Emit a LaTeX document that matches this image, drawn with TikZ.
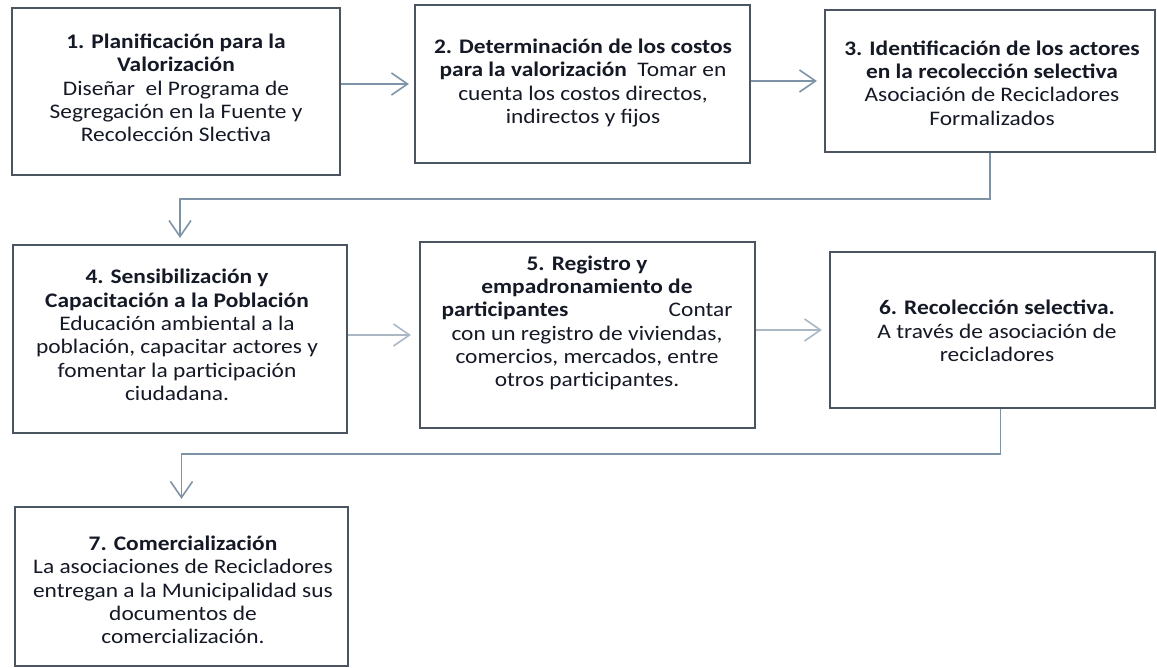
\documentclass[tikz,border=0pt]{standalone}
\usepackage{fontspec}
\setmainfont[FakeStretch=1.13]{Carlito}
\usetikzlibrary{arrows.meta,calc}
\definecolor{boxc}{HTML}{4A5561}
\definecolor{textc}{HTML}{141925}
\definecolor{arrc}{HTML}{7F93A6}
\definecolor{arrl}{HTML}{AAB8C6}
\begin{document}
\begin{tikzpicture}[x=1pt,y=-1pt,
  stepbox/.style={draw=boxc, line width=2.2pt, inner sep=0pt, fill=white},
  txt/.style={font=\fontsize{20.7}{23.3}\selectfont, align=center, text=textc, inner sep=0pt},
  arr/.style={draw=arrc, line width=1.6pt, -{Straight Barb[length=16pt,width=22pt]}},
  arrlight/.style={arr, draw=arrl}]
\useasboundingbox[fill=white] (0,0) rectangle (1157,668);
% boxes
\node[stepbox, minimum width=328pt, minimum height=167pt] (b1) at (176,91.5) {};
\node[stepbox, minimum width=335pt, minimum height=158pt] (b2) at (582.5,84) {};
\node[stepbox, minimum width=330pt, minimum height=142pt] (b3) at (990,81) {};
\node[stepbox, minimum width=334pt, minimum height=188pt] (b4) at (180,339) {};
\node[stepbox, minimum width=335pt, minimum height=186pt] (b5) at (587.5,335) {};
\node[stepbox, minimum width=325pt, minimum height=156pt] (b6) at (992.5,330) {};
\node[stepbox, minimum width=333pt, minimum height=159pt] (b7) at (181.5,586.5) {};
% texts
\node[txt] (t1) at (176,88) {\textbf{1. Planificación para la}\\\textbf{Valorización}\\Diseñar\ \ el Programa de\\Segregación en la Fuente y\\Recolección Slectiva};
\node[txt] (t2) at (583,83) {\textbf{2. Determinación de los costos}\\\textbf{para la valorización}\ \ Tomar en\\cuenta los costos directos,\\indirectos y fijos};
\node[txt] (t3) at (992,83) {\textbf{3. Identificación de los actores}\\\textbf{en la recolección selectiva}\\Asociación de Recicladores\\Formalizados};
\node[txt] (t4) at (177,335) {\textbf{4. Sensibilización y}\\\textbf{Capacitación a la Población}\\Educación ambiental a la\\población, capacitar actores y\\fomentar la participación\\ciudadana.};
\node[txt] (t5) at (587,323) {\textbf{5. Registro y}\\\textbf{empadronamiento de}\\\makebox[291pt]{\textbf{participantes}\hfill Contar}\\con un registro de viviendas,\\comercios, mercados, entre\\otros participantes.};
\node[txt] (t6) at (997,331) {\textbf{6. Recolección selectiva.}\\A través de asociación de\\recicladores};
\node[txt] (t7) at (183,590) {\textbf{7. Comercialización}\\La asociaciones de Recicladores\\entregan a la Municipalidad sus\\documentos de\\comercialización.};
% connectors
\draw[arr, shorten >=5pt] (b1.east |- b2.west) -- (b2.west);
\draw[arr, shorten >=7pt] (b2.east |- b3.west) -- (b3.west);
\draw[arr, shorten >=6pt] (b3.south) -- ++(0,46) -| (b4.north);
\draw[arrlight, shorten >=8pt] (b4.east |- b5.west) -- (b5.west);
\draw[arrlight, shorten >=7pt] (b5.east |- b6.west) -- (b6.west);
\draw[arr, shorten >=7pt] ($(b6.south)+(8,0)$) -- ++(0,45) -| (b7.north);
\end{tikzpicture}
\end{document}
